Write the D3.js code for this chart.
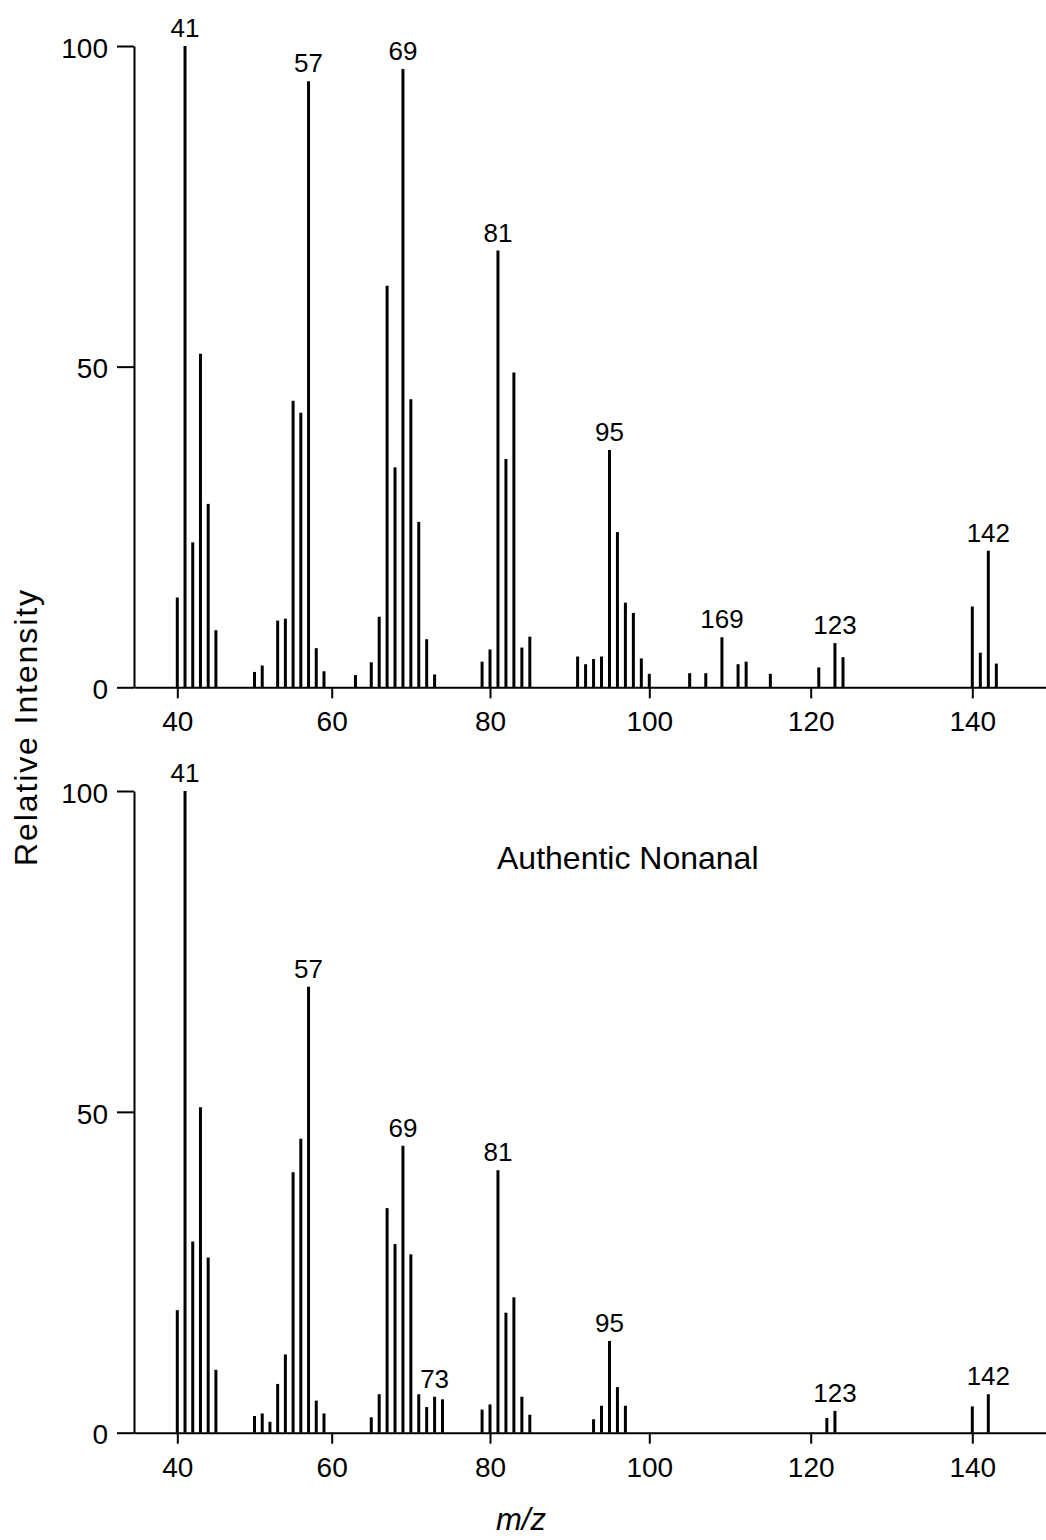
<!DOCTYPE html>
<html lang="en">
<head>
    <meta charset="UTF-8">
    <title>Mass Spectra - Nonanal</title>
    <script src="https://d3js.org/d3.v7.min.js"></script>
    <style>
        body { margin: 0; background: #fff; }
        svg text { font-family: "Liberation Sans", Arial, Helvetica, sans-serif; fill: #000; }
    </style>
</head>
<body>
    <div id="chart"></div>

    <script>
        // Upper spectrum: m/z and relative intensity (%)
        const mzTop = [40, 41, 42, 43, 44, 45, 50, 51, 53, 54, 55, 56, 57, 58, 59,
                       63, 65, 66, 67, 68, 69, 70, 71, 72, 73, 79, 80, 81, 82, 83, 84, 85,
                       91, 92, 93, 94, 95, 96, 97, 98, 99, 100, 105, 107, 109, 111, 112, 115,
                       121, 123, 124, 140, 141, 142, 143];
        const intTop = [14, 100, 22.6, 52, 28.6, 8.9, 2.4, 3.4, 10.4, 10.7, 44.7, 42.8, 94.5, 6.1, 2.5,
                        1.9, 3.9, 11, 62.6, 34.3, 96.4, 44.9, 25.8, 7.5, 2, 4, 5.9, 68.1, 35.6, 49.1, 6.2, 7.9,
                        4.8, 3.6, 4.4, 4.8, 37, 24.2, 13.2, 11.6, 4.5, 2.1, 2.2, 2.2, 7.8, 3.6, 4, 2.1,
                        3.1, 6.9, 4.7, 12.6, 5.4, 21.3, 3.7];
        const peakMzTop = [41, 57, 69, 81, 95, 109, 123, 142];
        const peakTextTop = ["41", "57", "69", "81", "95", "169", "123", "142"];

        // Lower spectrum: authentic nonanal
        const mzBottom = [40, 41, 42, 43, 44, 45, 50, 51, 52, 53, 54, 55, 56, 57, 58, 59,
                          65, 66, 67, 68, 69, 70, 71, 72, 73, 74, 79, 80, 81, 82, 83, 84, 85,
                          93, 94, 95, 96, 97, 122, 123, 140, 142];
        const intBottom = [19.1, 100, 29.8, 50.7, 27.3, 9.8, 2.6, 3, 1.7, 7.6, 12.2, 40.6, 45.8, 69.5, 5, 3,
                           2.4, 6, 35, 29.4, 44.7, 27.8, 6, 4, 5.6, 5.2, 3.6, 4.4, 40.9, 18.7, 21.1, 5.6, 2.8,
                           2.1, 4.2, 14.3, 7.1, 4.2, 2.3, 3.4, 4.1, 6];
        const peakMzBottom = [41, 57, 69, 73, 81, 95, 123, 142];
        const peakTextBottom = ["41", "57", "69", "73", "81", "95", "123", "142"];

        const xTicks = [40, 60, 80, 100, 120, 140];
        const yTicks = [0, 50, 100];

        const width = 1046;
        const height = 1540;

        const svg = d3.select("#chart")
                      .append("svg")
                      .attr("width", width)
                      .attr("height", height);

        // the scanned axis is slightly uneven, so pin the scale at each tick
        const x = d3.scaleLinear()
                    .domain([34.4, 40, 60, 80, 100, 120, 140, 149.2])
                    .range([134, 177.3, 331.7, 490, 649.3, 810.7, 972.3, 1046]);

        function drawPanel(yTop, yZero, mz, inten, peakMz, peakText) {
            const y = d3.scaleLinear().domain([0, 100]).range([yZero, yTop]);
            const g = svg.append("g");

            // x axis
            const xAxis = g.append("g")
                           .attr("transform", `translate(0,${yZero})`)
                           .call(d3.axisBottom(x).tickValues(xTicks).tickSize(11).tickSizeOuter(0).tickPadding(13));

            // y axis
            const yAxis = g.append("g")
                           .attr("transform", `translate(${x.range()[0]},0)`)
                           .call(d3.axisLeft(y).tickValues(yTicks).tickSize(17).tickSizeOuter(0).tickPadding(9));
            yAxis.selectAll("text").attr("dy", "0.4em");

            [xAxis, yAxis].forEach(a => {
                a.select(".domain").attr("stroke", "#000").attr("stroke-width", 2);
                a.selectAll(".tick line").attr("stroke", "#000").attr("stroke-width", 2);
                a.selectAll("text").style("font-size", "28px").attr("fill", "#000");
            });

            const data = mz.map((m, i) => ({mz: m, value: inten[i]}));

            // spectrum lines
            g.selectAll(".bar")
             .data(data)
             .enter()
             .append("line")
             .attr("class", "bar")
             .attr("x1", d => x(d.mz))
             .attr("x2", d => x(d.mz))
             .attr("y1", y(0))
             .attr("y2", d => y(d.value))
             .attr("stroke", "#000")
             .attr("stroke-width", 3);

            // peak labels
            g.selectAll(".peak")
             .data(peakMz)
             .enter()
             .append("text")
             .attr("class", "peak")
             .attr("x", d => x(d))
             .attr("y", d => y(inten[mz.indexOf(d)]) - 9)
             .attr("text-anchor", "middle")
             .style("font-size", "26px")
             .text((d, i) => peakText[i]);

            return g;
        }

        drawPanel(46, 687.3, mzTop, intTop, peakMzTop, peakTextTop);
        const bottom = drawPanel(791, 1432.7, mzBottom, intBottom, peakMzBottom, peakTextBottom);

        bottom.append("text")
              .attr("x", 497)
              .attr("y", 869)
              .style("font-size", "32px")
              .text("Authentic Nonanal");

        // axis titles
        svg.append("text")
           .attr("transform", "translate(37,728) rotate(-90)")
           .attr("text-anchor", "middle")
           .attr("textLength", 276)
           .attr("lengthAdjust", "spacing")
           .style("font-size", "32px")
           .text("Relative Intensity");

        svg.append("text")
           .attr("x", 521)
           .attr("y", 1530)
           .attr("text-anchor", "middle")
           .style("font-size", "31px")
           .style("font-style", "italic")
           .text("m/z");
    </script>
</body>
</html>
